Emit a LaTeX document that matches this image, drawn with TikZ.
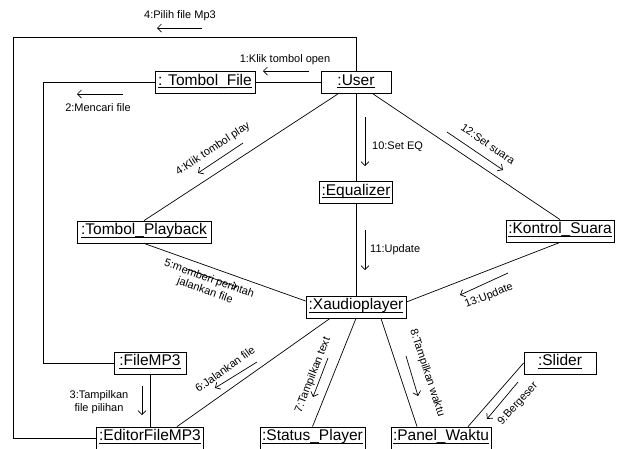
\documentclass[tikz,border=0pt]{standalone}
\usepackage{fontspec}
\setmainfont{Liberation Sans}
\usetikzlibrary{arrows.meta}
\newcommand\ulx[1]{\setbox0\hbox{#1}\rlap{\rule[-3pt]{\wd0}{0.7pt}}\box0}
\begin{document}
\begin{tikzpicture}[x=1pt,y=-1pt,
  obj/.style={draw, line width=0.8pt, font=\fontsize{15.5}{17}\selectfont, inner xsep=1pt, inner ysep=2pt, text height=11.5pt, text depth=6.5pt},
  lnk/.style={line width=0.7pt},
  msg/.style={line width=0.7pt, -{Straight Barb[length=4pt,width=8pt]}},
  lab/.style={font=\fontsize{11}{12.5}\selectfont, inner sep=0pt, align=center}]
\fill[white] (0,0) rectangle (623,448);
\useasboundingbox (0,0) rectangle (623,448);

% objects
\node[obj, minimum width=70pt]  (User)   at (356,82.5) {\ulx{:User}};
\node[obj, minimum width=100pt] (TFile)  at (205,82.5) {\ulx{: Tombol\_File}};
\node[obj, minimum width=73pt]  (Eq)     at (356,192.5) {\ulx{:Equalizer}};
\node[obj, minimum width=108pt] (Kontrol) at (560,231) {\ulx{:Kontrol\_Suara}};
\node[obj, minimum width=134pt] (TPlay)  at (144,232) {\ulx{:Tombol\_Playback}};
\node[obj, minimum width=100pt] (Xaudio) at (356,307) {\ulx{:Xaudioplayer}};
\node[obj, minimum width=72pt]  (FileMP3) at (150,363) {\ulx{:FileMP3}};
\node[obj, minimum width=72pt]  (Slider) at (560,363) {\ulx{:Slider}};
\node[obj, minimum width=107pt] (Editor) at (150,438) {\ulx{:EditorFileMP3}};
\node[obj, minimum width=105pt] (Status) at (312.5,438) {\ulx{:Status\_Player}};
\node[obj, minimum width=100pt] (Panel)  at (441,438) {\ulx{:Panel\_Waktu}};

\coordinate (outL) at (13,37);
\coordinate (inL) at (43,0);

% links
\draw[lnk] (User.north) |- (outL) |- (Editor.west);
\draw[lnk] (TFile.west) -- (TFile.west -| inL) |- (FileMP3.west);
\draw[lnk] (TFile.east) -- (User.west);
\draw[lnk] (User.south) -- (Eq.north);
\draw[lnk] (Eq.south) -- (Xaudio.north);
\draw[lnk] ([xshift=-18pt]User.south) -- (TPlay.north);
\draw[lnk] ([xshift=17pt]User.south) -- (Kontrol.north);
\draw[lnk] (TPlay.south) -- ([yshift=6pt]Xaudio.west);
\draw[lnk] (Kontrol.south) -- ([yshift=5pt]Xaudio.east);
\draw[lnk] ([xshift=-26pt]Xaudio.south) -- ([xshift=27pt]Editor.north);
\draw[lnk] (Xaudio.south) -- (Status.north);
\draw[lnk] ([xshift=25pt]Xaudio.south) -- ([xshift=-24pt]Panel.north);
\draw[lnk] (Slider.west) -- ([xshift=27pt]Panel.north);
\draw[lnk] (FileMP3.south) -- (Editor.north);

% messages
\node[lab] (m4a) at (180,16) {4:Pilih file Mp3};
\draw[msg] (202,28) -- (157,28);
\node[lab] (m1) at (285,60) {1:Klik tombol open};
\draw[msg] (309,71) -- (263,71);
\node[lab] (m2) at (98,108) {2:Mencari file};
\draw[msg] (123,94) -- (77,94);
\node[lab, rotate=33.7] (m4b) at (213,149) {4:Klik tombol play};
\draw[msg] (243,143) -- (198,173);
\node[lab, anchor=west] (m10) at (372,147) {10:Set EQ};
\draw[msg] (365,117) -- (365,166);
\node[lab, rotate=-34.5] (m12) at (488,144) {12:Set suara};
\draw[msg] (447,132) -- (503,170);
\node[lab, anchor=west] (m11) at (370,250) {11:Update};
\draw[msg] (365,230) -- (365,270);
\node[lab, rotate=21.4] (m13) at (489,296) {13:Update};
\draw[msg] (508,273) -- (460,295);
\node[lab, rotate=-19.6] (m5) at (207,285) {5:memberi perintah\\jalankan file};
\draw[msg] (187,269) -- (237,287);
\node[lab] (m3) at (99,402) {3:Tampilkan\\file pilihan};
\draw[msg] (142,386) -- (142,415);
\node[lab, rotate=35.5] (m6) at (225,369) {6:Jalankan file};
\draw[msg] (257,362) -- (215,388);
\node[lab, rotate=68.5] (m7) at (313,375) {7:Tampilkan text};
\draw[msg] (328,358) -- (313,397);
\node[lab, rotate=-71.7] (m8) at (427,373) {8:Tampilkan waktu};
\draw[msg] (406,356) -- (418,396);
\node[lab, rotate=48] (m9) at (518,404) {9:Bergeser};
\draw[msg] (518,382) -- (487,419);
\end{tikzpicture}
\end{document}
